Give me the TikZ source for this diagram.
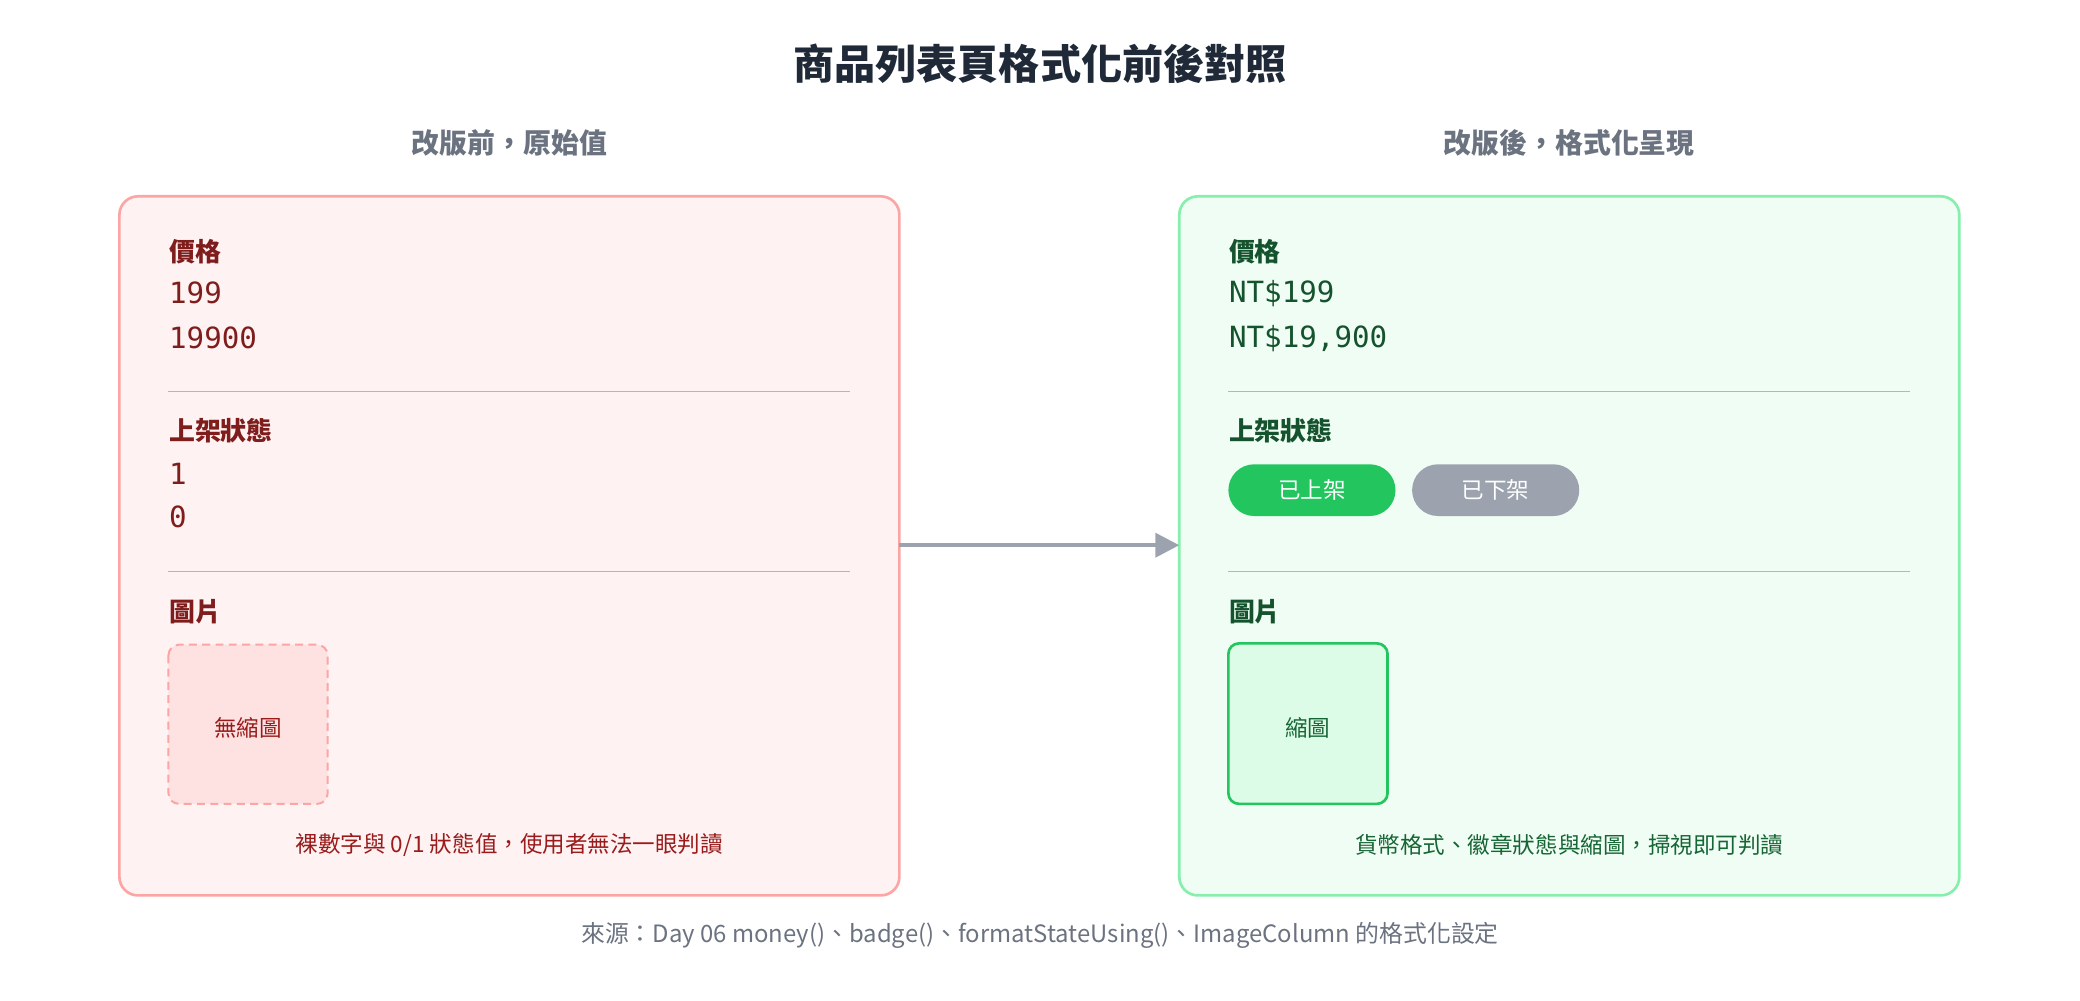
\documentclass[tikz,border=0pt]{standalone}
\usetikzlibrary{arrows.meta}
\usepackage{fontspec}
\setmainfont{Noto Sans CJK TC}
\newfontfamily\monof{DejaVu Sans Mono}
\begin{document}
\begin{tikzpicture}[x=1pt,y=-1pt,
  ttl/.style={font=\fontsize{31}{36}\selectfont\bfseries},
  sub/.style={font=\fontsize{21}{25}\selectfont\bfseries,text=slate},
  hd/.style={anchor=west,font=\fontsize{19.5}{23}\selectfont\bfseries},
  val/.style={anchor=west,font=\monof\fontsize{22}{26}\selectfont},
  sm/.style={font=\fontsize{17}{21}\selectfont}]
\definecolor{rfill}{HTML}{FEF2F2}\definecolor{rline}{HTML}{FCA5A5}\definecolor{rdiv}{HTML}{E8A0A0}
\definecolor{rdark}{HTML}{7F1D1D}\definecolor{rmid}{HTML}{991B1B}\definecolor{rthumb}{HTML}{FEE2E2}
\definecolor{gfill}{HTML}{F0FDF4}\definecolor{gline}{HTML}{86EFAC}\definecolor{gdiv}{HTML}{7DD89C}
\definecolor{gdark}{HTML}{14532D}\definecolor{gmid}{HTML}{166534}\definecolor{gthumb}{HTML}{DCFCE7}
\definecolor{gbadge}{HTML}{22C55E}\definecolor{gray4}{HTML}{9CA3AF}\definecolor{navy}{HTML}{1F2937}
\definecolor{slate}{HTML}{6B7280}
\useasboundingbox (0,0) rectangle (1568,754);
\node[ttl,text=navy] (title) at (784,48) {商品列表頁格式化前後對照};
\node[sub] (s1) at (384,108) {改版前，原始值};
\node[sub] (s2) at (1183,108) {改版後，格式化呈現};
% left
\draw[rline,fill=rfill,line width=2,rounded corners=14] (90,148) rectangle (678,675);
\coordinate (L) at (678,411);
\node[hd,text=rdark] (l1) at (124,190) {價格};
\node[val,text=rdark] (l2) at (124,221) {199};
\node[val,text=rdark] (l3) at (124,255) {19900};
\draw[rdiv,line width=1] (127,295) -- (641,295);
\node[hd,text=rdark] (l4) at (124,325) {上架狀態};
\node[val,text=rdark] (l5) at (124,357) {1};
\node[val,text=rdark] (l6) at (124,390) {0};
\draw[rdiv,line width=1] (127,431) -- (641,431);
\node[hd,text=rdark] (l7) at (124,461) {圖片};
\draw[rline,fill=rthumb,dash pattern=on 6 off 4,line width=1.5,rounded corners=8] (127,486) rectangle (247,606);
\node[sm,text=rmid] (l8) at (187,549) {無縮圖};
\node[sm,text=rmid] (l9) at (384,637) {裸數字與 0/1 狀態值，使用者無法一眼判讀};
% right
\draw[gline,fill=gfill,line width=2,rounded corners=14] (889,148) rectangle (1477,675);
\coordinate (R) at (889,411);
\node[hd,text=gdark] (r1) at (923,190) {價格};
\node[val,text=gdark] (r2) at (923,221) {NT\$199};
\node[val,text=gdark] (r3) at (923,255) {NT\$19,900};
\draw[gdiv,line width=1] (926,295) -- (1440,295);
\node[hd,text=gdark] (r4) at (923,325) {上架狀態};
\node[fill=gbadge,rounded corners=19.5,minimum width=126,minimum height=39,sm,text=white] (b1) at (989,369.5) {已上架};
\node[fill=gray4,rounded corners=19.5,minimum width=126,minimum height=39,sm,text=white] (b2) at (1127.5,369.5) {已下架};
\draw[gdiv,line width=1] (926,431) -- (1440,431);
\node[hd,text=gdark] (r7) at (923,461) {圖片};
\draw[gbadge,fill=gthumb,line width=2,rounded corners=8] (926,485) rectangle (1046,606);
\node[sm,text=gmid] (r8) at (986,549) {縮圖};
\node[sm,text=gmid] (r9) at (1183,637) {貨幣格式、徽章狀態與縮圖，掃視即可判讀};
\draw[gray4,line width=3,-{Triangle[length=18,width=18]}] (L) -- (R);
\node[font=\fontsize{18}{22}\selectfont,text=slate] (src) at (784,705) {來源：Day 06 money()、badge()、formatStateUsing()、ImageColumn 的格式化設定};
\end{tikzpicture}
\end{document}
